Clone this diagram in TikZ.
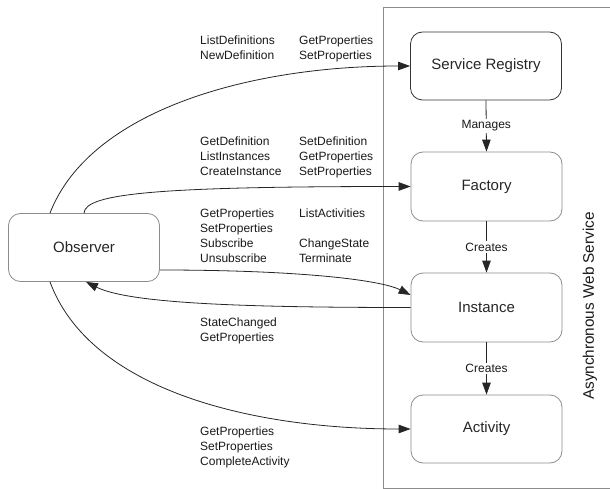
\documentclass[tikz,border=0pt]{standalone}
\usepackage{fontspec}
\setmainfont{Liberation Sans}
\usetikzlibrary{arrows.meta}
\begin{document}
\begin{tikzpicture}[x=1pt,y=-1pt,
  box/.style={draw=black!45,line width=0.8pt,rounded corners=12pt,minimum width=151pt,minimum height=68pt,inner sep=0pt,font=\fontsize{15}{18}\selectfont,text=black!85},
  lbl/.style={anchor=base west,inner sep=0pt,font=\fontsize{12}{14}\selectfont,text=black!90},
  elbl/.style={fill=white,inner sep=1.5pt,font=\fontsize{12}{14}\selectfont,text=black!90},
  conn/.style={draw=black!85,line width=0.8pt},
  arr/.style={conn,-{Triangle[length=12pt,width=8.5pt]}}]
\useasboundingbox (0,0) rectangle (610,489);
% frame
\coordinate (ftr) at (610,7);
\coordinate (ftl) at (383,7);
\coordinate (fbl) at (383,488);
\coordinate (fbr) at (610,488);
\draw[black!45,line width=0.8pt] (ftr) -- (ftl) -- (fbl) -- (fbr);
\node[rotate=90,inner sep=0pt,font=\fontsize{15.3}{18}\selectfont,text=black!90] (aws) at (590,306) {Asynchronous Web Service};
% nodes
\node[box] (obs) at (84,247.5) {Observer};
\node[box,draw=black!80,minimum height=68pt] (sr) at (486,66) {Service Registry};
\node[box,minimum height=69pt] (fac) at (486.5,186.5) {Factory};
\node[box,minimum height=69pt] (inst) at (486.5,307.5) {Instance};
\node[box] (act) at (486.5,429) {Activity};
% vertical connectors
\draw[arr] (sr.south) -- node[elbl] (lm) {Manages} (fac.north);
\draw[arr] (fac.south) -- node[elbl] (lc1) {Creates} (inst.north);
\draw[arr] (inst.south) -- node[elbl] (lc2) {Creates} (act.north);
% curves
\draw[arr] ([xshift=-34pt]obs.north) .. controls +(40,-103) and +(-160,0) .. (sr.west);
\draw[arr] (obs.north) .. controls +(1,-20) and +(-250,0) .. (fac.west);
\draw[arr] ([yshift=-22.5pt]obs.east) .. controls +(140,0) and +(-30,-15) .. ([yshift=12.5pt]inst.west);
\draw[arr] (inst.west) .. controls +(-160,0) and +(44,22) .. ([xshift=2pt]obs.south);
\draw[arr] ([xshift=-34pt]obs.south) .. controls +(40,108) and +(-160,0) .. (act.west);
% labels group 1
\node[lbl] (g1a) at (200,45) {ListDefinitions};
\node[lbl] (g1b) at (200,59.5) {NewDefinition};
\node[lbl] (g1c) at (299,45) {GetProperties};
\node[lbl] (g1d) at (299,59.5) {SetProperties};
% group 2
\node[lbl] (g2a) at (200,146) {GetDefinition};
\node[lbl] (g2b) at (200,160.8) {ListInstances};
\node[lbl] (g2c) at (200,175.6) {CreateInstance};
\node[lbl] (g2d) at (299,146) {SetDefinition};
\node[lbl] (g2e) at (299,160.8) {GetProperties};
\node[lbl] (g2f) at (299,175.6) {SetProperties};
% group 3
\node[lbl] (g3a) at (200,218) {GetProperties};
\node[lbl] (g3b) at (200,232.7) {SetProperties};
\node[lbl] (g3c) at (200,247.4) {Subscribe};
\node[lbl] (g3d) at (200,262.1) {Unsubscribe};
\node[lbl] (g3e) at (299,218) {ListActivities};
\node[lbl] (g3f) at (299,247.4) {ChangeState};
\node[lbl] (g3g) at (299,262.1) {Terminate};
% group 4
\node[lbl] (g4a) at (200,326.5) {StateChanged};
\node[lbl] (g4b) at (200,341) {GetProperties};
% group 5
\node[lbl] (g5a) at (200,435.7) {GetProperties};
\node[lbl] (g5b) at (200,450.4) {SetProperties};
\node[lbl] (g5c) at (200,465.1) {CompleteActivity};
\end{tikzpicture}
\end{document}
